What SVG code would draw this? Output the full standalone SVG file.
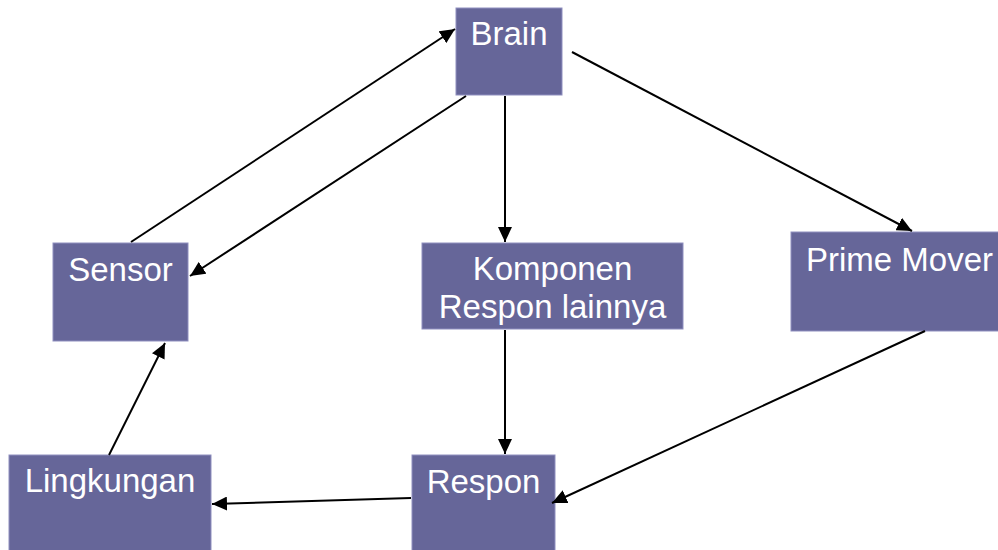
<svg xmlns="http://www.w3.org/2000/svg" width="998" height="550" viewBox="0 0 998 550">
<style>
.box{fill:#666699;stroke:#8f8fbf;stroke-width:1}
.lbl{font-family:"Liberation Sans",Arial,sans-serif;font-size:33px;fill:#ffffff;text-anchor:middle}
.con{stroke:#000;stroke-width:2;fill:none;marker-end:url(#ah)}
</style>
<defs>
<marker id="ah" markerUnits="userSpaceOnUse" markerWidth="16" markerHeight="14" refX="15" refY="7" orient="auto">
<path d="M0,0 L15,7 L0,14 Z" fill="#000"/>
</marker>
</defs>
<rect width="998" height="550" fill="#fff"/>
<g id="brain"><rect class="box" x="456" y="8" width="106" height="87"/><text class="lbl" x="509" y="45">Brain</text></g>
<g id="sensor"><rect class="box" x="53" y="243" width="135" height="98"/><text class="lbl" x="120.5" y="281">Sensor</text></g>
<g id="komponen"><rect class="box" x="422" y="243" width="261" height="86"/><text class="lbl" x="552.5" y="280">Komponen</text><text class="lbl" x="552.5" y="318">Respon lainnya</text></g>
<g id="prime"><rect class="box" x="791" y="232" width="217" height="99"/><text class="lbl" x="899.5" y="271">Prime Mover</text></g>
<g id="lingkungan"><rect class="box" x="9" y="455" width="202" height="100"/><text class="lbl" x="110" y="492">Lingkungan</text></g>
<g id="respon"><rect class="box" x="412" y="455" width="143" height="100"/><text class="lbl" x="483.5" y="493">Respon</text></g>
<g id="connectors">
<line class="con" x1="131" y1="242" x2="455" y2="29"/>
<line class="con" x1="466" y1="96" x2="190" y2="276"/>
<line class="con" x1="505" y1="96" x2="505" y2="242"/>
<line class="con" x1="572" y1="52" x2="912" y2="231"/>
<line class="con" x1="505" y1="330" x2="505" y2="454"/>
<line class="con" x1="925" y1="331" x2="552" y2="503"/>
<line class="con" x1="411" y1="498" x2="212" y2="504"/>
<line class="con" x1="109" y1="455" x2="165" y2="343"/>
</g>
</svg>
